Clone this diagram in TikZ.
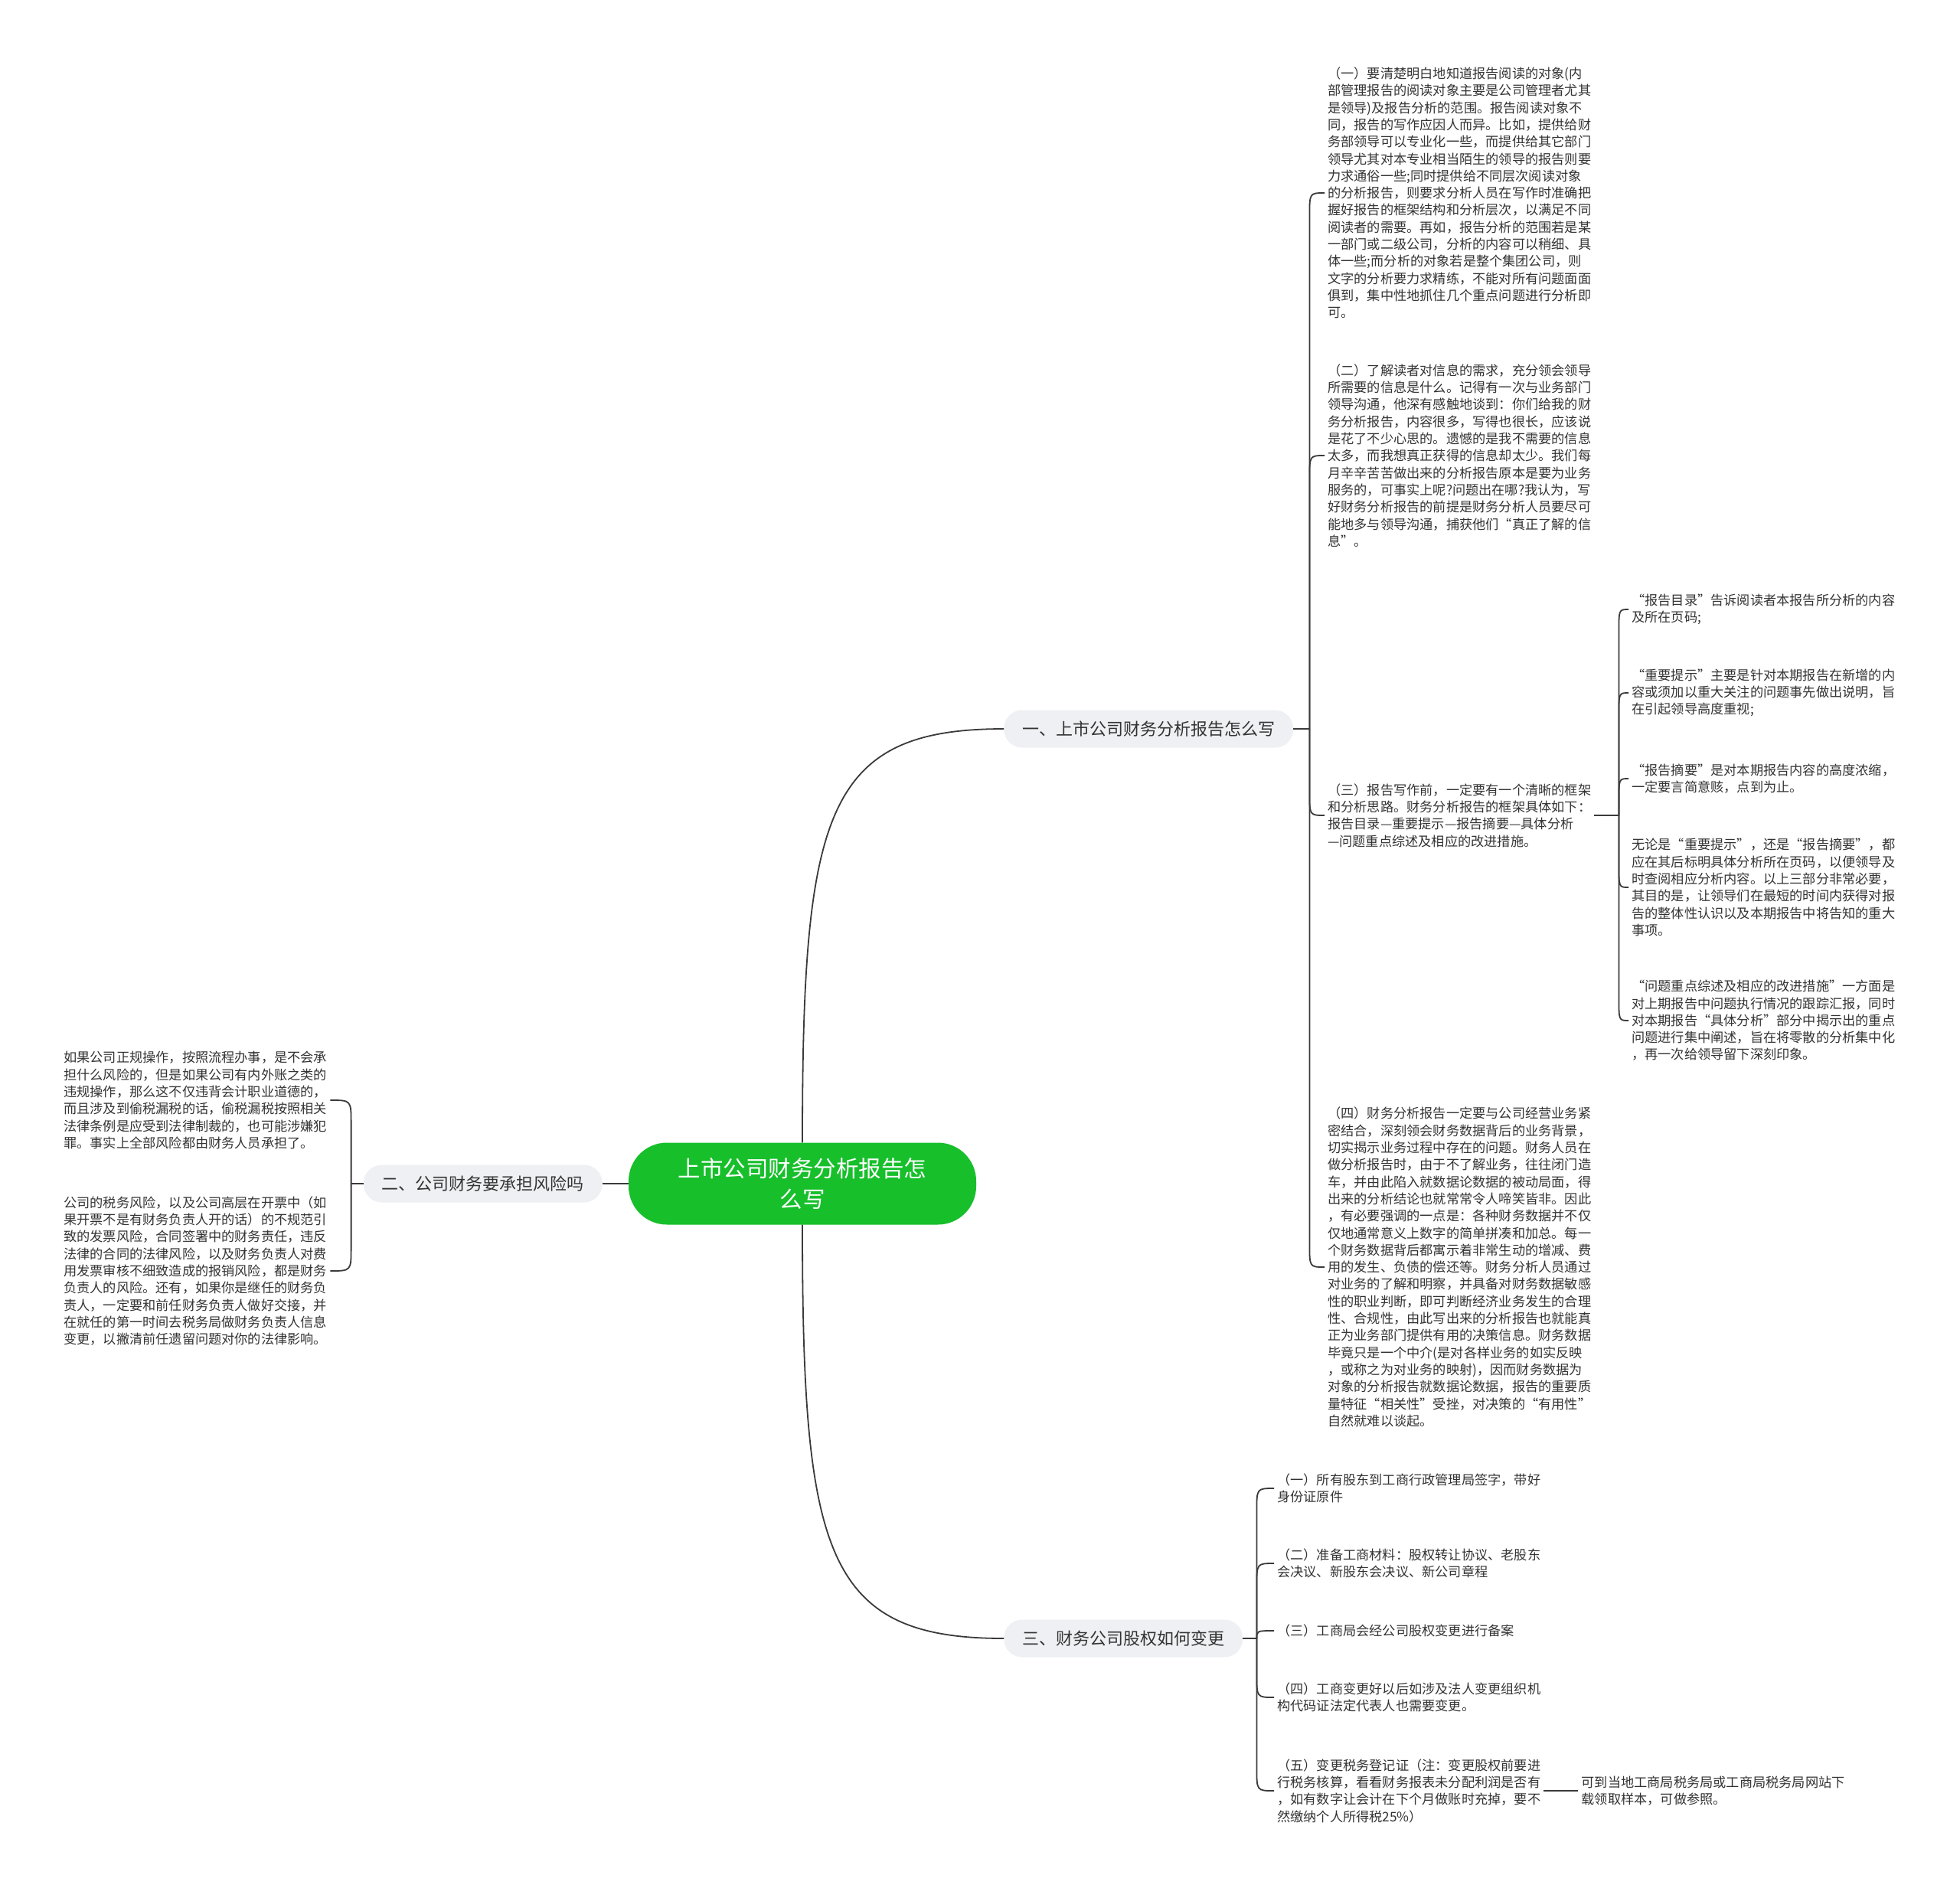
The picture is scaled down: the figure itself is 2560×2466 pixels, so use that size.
\documentclass[tikz,border=0pt]{standalone}
\usepackage{fontspec}
\setmainfont{Noto Sans CJK SC}
\usetikzlibrary{positioning, calc}
\definecolor{rootgreen}{HTML}{17BF2B}
\definecolor{topicfill}{HTML}{EEF0F3}
\definecolor{inktext}{HTML}{333333}
\definecolor{linkgray}{HTML}{3A3A3A}

\begin{document}
\begin{tikzpicture}[
  x=1pt, y=-1pt,
  root/.style={
    rectangle, rounded corners=50pt, fill=rootgreen, text=white,
    minimum width=454pt, minimum height=107pt,
    align=center, font=\fontsize{29.5}{40}\selectfont
  },
  topic/.style={
    rectangle, rounded corners=24pt, fill=topicfill, text=inktext,
    minimum height=49pt, inner xsep=24pt, font=\fontsize{22}{26}\selectfont
  },
  leaf/.style={align=left, text=inktext, inner xsep=4pt, inner ysep=2pt,
    font=\fontsize{17.2}{22.3}\selectfont},
  link/.style={draw=linkgray, line width=1.8pt}
]
  \fill[white] (0,0) rectangle (2560,2466);
  \useasboundingbox (0,0) rectangle (2560,2466);

  \node[root] (root) at (1048,1546) {上市公司财务分析报告怎\\么写};
  \node[topic, anchor=west] (b1) at (1311,952) {一、上市公司财务分析报告怎么写};
  \node[topic, anchor=east] (b2) at (787,1546) {二、公司财务要承担风险吗};
  \node[topic, anchor=west] (b3) at (1311,2140) {三、财务公司股权如何变更};

  % first branch
  \node[leaf, anchor=west] (c11) at (1730,252) {（一）要清楚明白地知道报告阅读的对象(内\\
部管理报告的阅读对象主要是公司管理者尤其\\
是领导)及报告分析的范围。报告阅读对象不\\
同，报告的写作应因人而异。比如，提供给财\\
务部领导可以专业化一些，而提供给其它部门\\
领导尤其对本专业相当陌生的领导的报告则要\\
力求通俗一些;同时提供给不同层次阅读对象\\
的分析报告，则要求分析人员在写作时准确把\\
握好报告的框架结构和分析层次，以满足不同\\
阅读者的需要。再如，报告分析的范围若是某\\
一部门或二级公司，分析的内容可以稍细、具\\
体一些;而分析的对象若是整个集团公司，则\\
文字的分析要力求精练，不能对所有问题面面\\
俱到，集中性地抓住几个重点问题进行分析即\\
可。};
  \node[leaf, anchor=west] (c12) at (1730,595) {（二）了解读者对信息的需求，充分领会领导\\
所需要的信息是什么。记得有一次与业务部门\\
领导沟通，他深有感触地谈到：你们给我的财\\
务分析报告，内容很多，写得也很长，应该说\\
是花了不少心思的。遗憾的是我不需要的信息\\
太多，而我想真正获得的信息却太少。我们每\\
月辛辛苦苦做出来的分析报告原本是要为业务\\
服务的，可事实上呢?问题出在哪?我认为，写\\
好财务分析报告的前提是财务分析人员要尽可\\
能地多与领导沟通，捕获他们“真正了解的信\\
息”。};
  \node[leaf, anchor=west] (c13) at (1730,1065) {（三）报告写作前，一定要有一个清晰的框架\\
和分析思路。财务分析报告的框架具体如下：\\
报告目录—重要提示—报告摘要—具体分析\\
—问题重点综述及相应的改进措施。};
  \node[leaf, anchor=west] (c14) at (1730,1655) {（四）财务分析报告一定要与公司经营业务紧\\
密结合，深刻领会财务数据背后的业务背景，\\
切实揭示业务过程中存在的问题。财务人员在\\
做分析报告时，由于不了解业务，往往闭门造\\
车，并由此陷入就数据论数据的被动局面，得\\
出来的分析结论也就常常令人啼笑皆非。因此\\
，有必要强调的一点是：各种财务数据并不仅\\
仅地通常意义上数字的简单拼凑和加总。每一\\
个财务数据背后都寓示着非常生动的增减、费\\
用的发生、负债的偿还等。财务分析人员通过\\
对业务的了解和明察，并具备对财务数据敏感\\
性的职业判断，即可判断经济业务发生的合理\\
性、合规性，由此写出来的分析报告也就能真\\
正为业务部门提供有用的决策信息。财务数据\\
毕竟只是一个中介(是对各样业务的如实反映\\
，或称之为对业务的映射)，因而财务数据为\\
对象的分析报告就数据论数据，报告的重要质\\
量特征“相关性”受挫，对决策的“有用性”\\
自然就难以谈起。};

  % framework items
  \node[leaf, anchor=west] (c131) at (2127,796) {“报告目录”告诉阅读者本报告所分析的内容\\
及所在页码;};
  \node[leaf, anchor=west] (c132) at (2127,905) {“重要提示”主要是针对本期报告在新增的内\\
容或须加以重大关注的问题事先做出说明，旨\\
在引起领导高度重视;};
  \node[leaf, anchor=west] (c133) at (2127,1017) {“报告摘要”是对本期报告内容的高度浓缩，\\
一定要言简意赅，点到为止。};
  \node[leaf, anchor=west] (c134) at (2127,1159) {无论是“重要提示”，还是“报告摘要”，都\\
应在其后标明具体分析所在页码，以便领导及\\
时查阅相应分析内容。以上三部分非常必要，\\
其目的是，让领导们在最短的时间内获得对报\\
告的整体性认识以及本期报告中将告知的重大\\
事项。};
  \node[leaf, anchor=west] (c135) at (2127,1333) {“问题重点综述及相应的改进措施”一方面是\\
对上期报告中问题执行情况的跟踪汇报，同时\\
对本期报告“具体分析”部分中揭示出的重点\\
问题进行集中阐述，旨在将零散的分析集中化\\
，再一次给领导留下深刻印象。};

  % second branch
  \node[leaf, anchor=west] (c21) at (79,1437) {如果公司正规操作，按照流程办事，是不会承\\
担什么风险的，但是如果公司有内外账之类的\\
违规操作，那么这不仅违背会计职业道德的，\\
而且涉及到偷税漏税的话，偷税漏税按照相关\\
法律条例是应受到法律制裁的，也可能涉嫌犯\\
罪。事实上全部风险都由财务人员承担了。};
  \node[leaf, anchor=west] (c22) at (79,1660) {公司的税务风险，以及公司高层在开票中（如\\
果开票不是有财务负责人开的话）的不规范引\\
致的发票风险，合同签署中的财务责任，违反\\
法律的合同的法律风险，以及财务负责人对费\\
用发票审核不细致造成的报销风险，都是财务\\
负责人的风险。还有，如果你是继任的财务负\\
责人，一定要和前任财务负责人做好交接，并\\
在就任的第一时间去税务局做财务负责人信息\\
变更，以撇清前任遗留问题对你的法律影响。};

  % third branch
  \node[leaf, anchor=west] (c31) at (1664,1944) {（一）所有股东到工商行政管理局签字，带好\\
身份证原件};
  \node[leaf, anchor=west] (c32) at (1664,2042) {（二）准备工商材料：股权转让协议、老股东\\
会决议、新股东会决议、新公司章程};
  \node[leaf, anchor=west] (c33) at (1664,2130) {（三）工商局会经公司股权变更进行备案};
  \node[leaf, anchor=west] (c34) at (1664,2217) {（四）工商变更好以后如涉及法人变更组织机\\
构代码证法定代表人也需要变更。};
  \node[leaf, anchor=west] (c35) at (1664,2339) {（五）变更税务登记证（注：变更股权前要进\\
行税务核算，看看财务报表未分配利润是否有\\
，如有数字让会计在下个月做账时充掉，要不\\
然缴纳个人所得税25\%）};
  \node[leaf, right=45pt of c35] (c36) {可到当地工商局税务局或工商局税务局网站下\\
载领取样本，可做参照。};

  % junctions
  \coordinate (j1) at ($(b1.east)+(21,0)$);
  \coordinate (j13) at ($(c13.east)+(32,0)$);
  \coordinate (j2) at ($(b2.west)+(-16,0)$);
  \coordinate (j3) at ($(b3.east)+(18,0)$);

  \draw[link] (root.north) .. controls (1048,1061) and (1078,952) .. (b1.west);
  \draw[link] (root.south) .. controls (1048,2030) and (1078,2140) .. (b3.west);
  \draw[link] (root.west) -- (b2.east);

  \draw[link] (b1.east) -- (j1);
  \foreach \c/\s in {c11/1, c12/1, c13/-1, c14/-1}
    \draw[link] (j1) -- ($(j1 |- \c.west)+(0,\s*30)$) .. controls (j1 |- \c.west) .. (\c.west);

  \draw[link] (c13.east) -- (j13);
  \foreach \c/\s in {c131/1, c132/1, c133/1, c134/-1, c135/-1}
    \draw[link] (j13) -- ($(j13 |- \c.west)+(0,\s*30)$) .. controls (j13 |- \c.west) .. (\c.west);

  \draw[link] (b2.west) -- (j2);
  \foreach \c/\s in {c21/1, c22/-1}
    \draw[link] (j2) -- ($(j2 |- \c.east)+(0,\s*30)$) .. controls (j2 |- \c.east) .. (\c.east);

  \draw[link] (b3.east) -- (j3);
  \foreach \c/\s in {c31/1, c32/1, c33/0.333, c34/-1, c35/-1}
    \draw[link] (j3) -- ($(j3 |- \c.west)+(0,\s*30)$) .. controls (j3 |- \c.west) .. (\c.west);

  \draw[link] (c35.east) -- (c36.west);
\end{tikzpicture}
\end{document}
